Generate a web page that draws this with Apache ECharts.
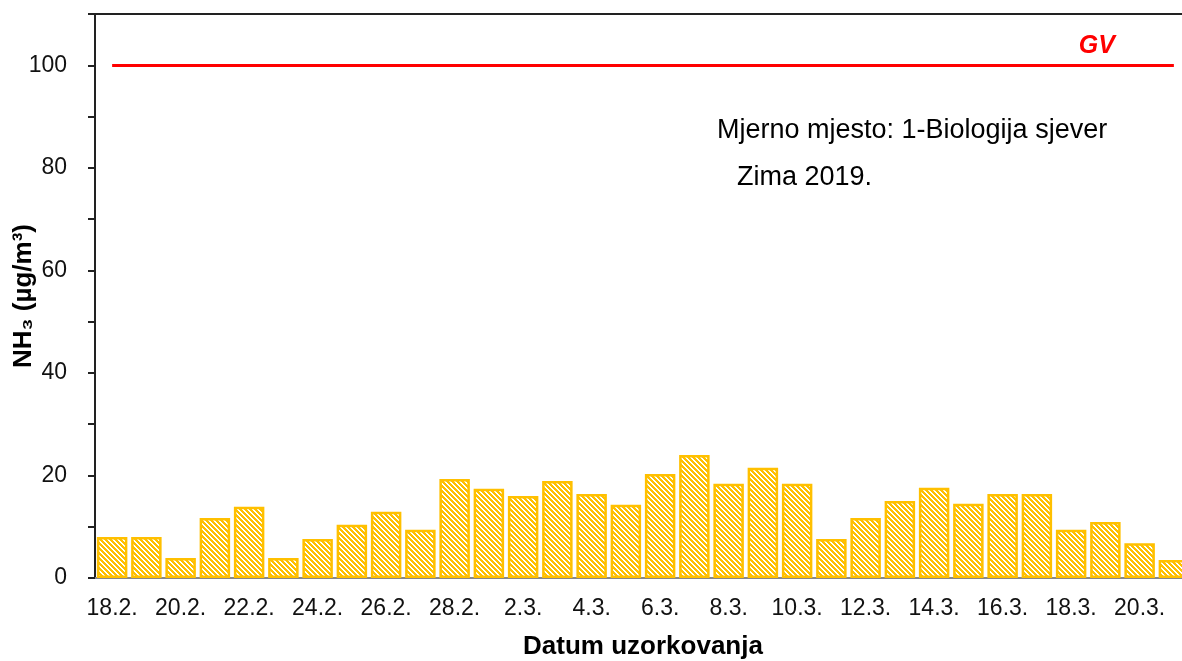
<!DOCTYPE html>
<html>
<head>
<meta charset="utf-8">
<script src="https://cdn.jsdelivr.net/npm/echarts@6/dist/echarts.min.js"></script>
<style>
  html, body { margin: 0; padding: 0; background: #fff; }
  #chart { width: 1182px; height: 661px; }
</style>
</head>
<body>
<div id="chart"></div>
<script>
// sampling days (winter 2019)
const dates = [
  "18.2.", "19.2.", "20.2.", "21.2.", "22.2.", "23.2.", "24.2.", "25.2.",
  "26.2.", "27.2.", "28.2.", "1.3.", "2.3.", "3.3.", "4.3.", "5.3.",
  "6.3.", "7.3.", "8.3.", "9.3.", "10.3.", "11.3.", "12.3.", "13.3.",
  "14.3.", "15.3.", "16.3.", "17.3.", "18.3.", "19.3.", "20.3.", "21.3."
];
// NH3 concentration, µg/m3
const nh3 = [
  8.0, 8.0, 3.9, 11.7, 13.9, 3.9, 7.6, 10.4,
  12.9, 9.4, 19.3, 17.4, 16.0, 18.9, 16.4, 14.3,
  20.3, 24.0, 18.4, 21.5, 18.4, 7.6, 11.7, 15.0,
  17.6, 14.5, 16.4, 16.4, 9.4, 10.9, 6.8, 3.5
];
// limit value
const gvLimit = 100;

const FONT = "Liberation Sans, Arial, sans-serif";
const YELLOW = "#FFC000";

// hatched fill: yellow diagonal stripes on white
function hatch() {
  const p = 5;
  const c = document.createElement("canvas");
  c.width = p;
  c.height = p;
  const ctx = c.getContext("2d");
  ctx.fillStyle = "#fff";
  ctx.fillRect(0, 0, p, p);
  ctx.fillStyle = YELLOW;
  for (let y = 0; y < p; y++) {
    for (let x = 0; x < p; x++) {
      const d = (((x - y) % p) + p) % p;
      if (d <= 2) ctx.fillRect(x, y, 1, 1);
    }
  }
  return c;
}

const chart = echarts.init(document.getElementById("chart"));
const option = {
  animation: false,
  grid: { left: 95, width: 1096, top: 14, bottom: 83, outerBoundsMode: "none" },
  xAxis: [
    {
      type: "category",
      data: dates,
      name: "Datum uzorkovanja",
      nameLocation: "middle",
      nameGap: 56,
      nameMoveOverlap: false,
      nameTextStyle: { fontFamily: FONT, fontSize: 26, fontWeight: "bold", color: "#000" },
      axisLine: { lineStyle: { color: "#888", width: 2 } },
      axisTick: { interval: 0, length: 6, lineStyle: { color: "#888", width: 2 } },
      axisLabel: { interval: 1, fontFamily: FONT, fontSize: 23, color: "#111", margin: 19 },
    },
    {
      type: "category",
      data: dates,
      position: "top",
      axisLine: { lineStyle: { color: "#222", width: 2 } },
      axisTick: { show: false },
      axisLabel: { show: false },
    },
  ],
  yAxis: {
    type: "value",
    min: 0,
    max: 110,
    interval: 10,
    name: "NH\u2083 (\u00b5g/m\u00b3)",
    nameLocation: "middle",
    nameGap: 58,
    nameMoveOverlap: false,
    nameTextStyle: { fontFamily: FONT, fontSize: 26, fontWeight: "bold", color: "#000" },
    axisLine: { show: true, lineStyle: { color: "#222", width: 2 } },
    axisTick: { show: true, length: 7, lineStyle: { color: "#222", width: 2 } },
    axisLabel: {
      fontFamily: FONT,
      fontSize: 23,
      color: "#111",
      margin: 28,
      formatter: function (v) {
        return v % 20 === 0 && v <= 100 ? String(v) : "";
      },
    },
    splitLine: { show: false },
  },
  series: [
    {
      type: "bar",
      data: nh3,
      barCategoryGap: "11%",
      itemStyle: {
        color: { image: hatch(), repeat: "repeat" },
        borderColor: YELLOW,
        borderWidth: 2.5,
      },
      markLine: {
        silent: true,
        symbol: "none",
        lineStyle: { color: "#ff0000", width: 3, type: "solid" },
        label: {
          show: true,
          position: "insideEndTop",
          formatter: "GV",
          color: "#ff0000",
          fontFamily: FONT,
          fontSize: 25,
          fontWeight: "bold",
          fontStyle: "italic",
          padding: [0, 54, 2, 0],
        },
        data: [[{ coord: [0, gvLimit] }, { coord: [dates.length - 1, gvLimit] }]],
      },
    },
  ],
  graphic: [
    {
      type: "text",
      left: 717,
      top: 117,
      style: { text: "Mjerno mjesto: 1-Biologija sjever", font: "27px " + FONT, fill: "#000" },
    },
    {
      type: "text",
      left: 737,
      top: 164,
      style: { text: "Zima 2019.", font: "27px " + FONT, fill: "#000" },
    },
  ],
};
chart.setOption(option);
</script>
</body>
</html>
